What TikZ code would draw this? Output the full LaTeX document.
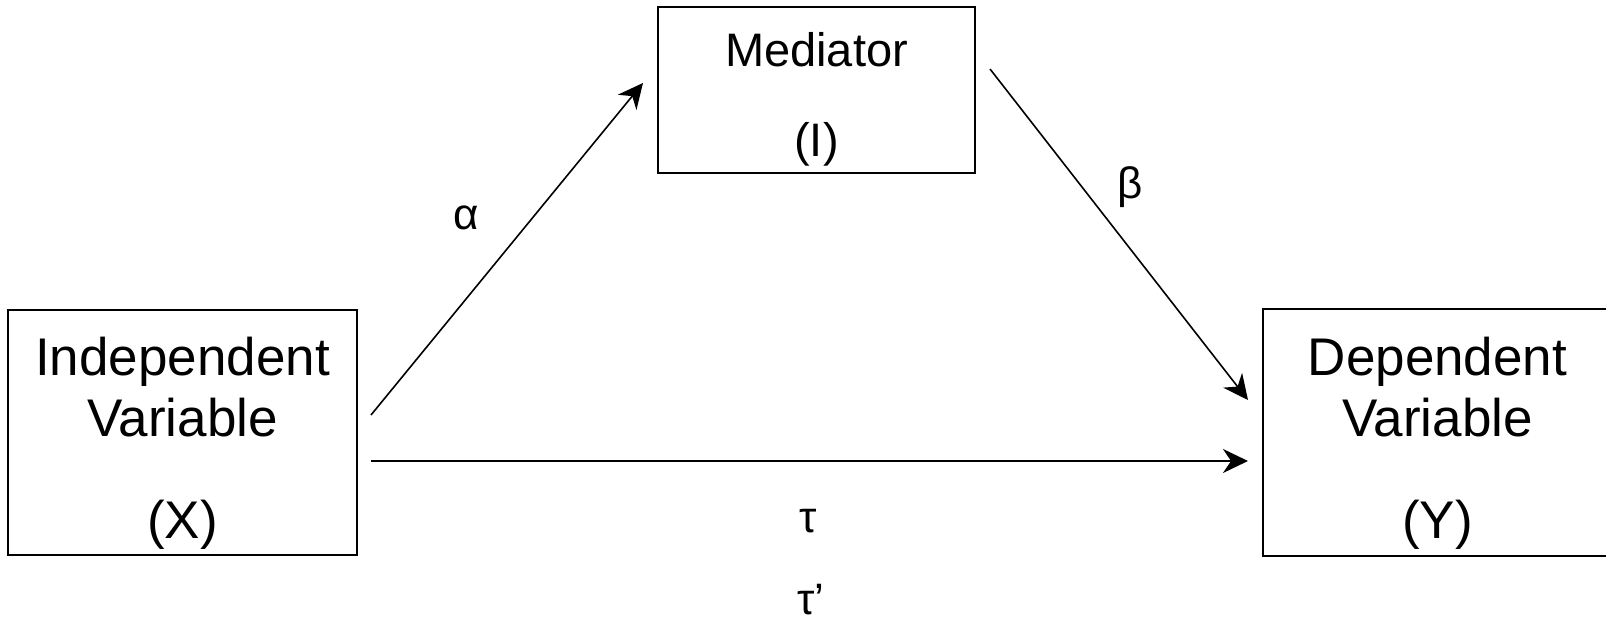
\documentclass[tikz,border=0pt]{standalone}
\usepackage{fontspec}
\setmainfont{Liberation Sans}
\usetikzlibrary{arrows.meta}
\begin{document}
\begin{tikzpicture}[x=1pt,y=-1pt,
  box/.style={draw,line width=1.6pt,rectangle,inner sep=0pt},
  big/.style={font=\fontsize{53}{60}\selectfont,inner sep=0pt,anchor=base},
  mid/.style={font=\fontsize{47}{54}\selectfont,inner sep=0pt,anchor=base},
  greek/.style={font=\fontsize{44}{50}\selectfont,inner sep=0pt,anchor=base},
  conn/.style={line width=1.6pt,-{Stealth[length=25pt,width=24pt,inset=8pt]}}]
\useasboundingbox (0,0) rectangle (1606,620);
% boxes
\node[box,minimum width=349pt,minimum height=245pt] (X) at (182.5,432.5) {};
\node[box,minimum width=349pt,minimum height=247pt] (Y) at (1437.5,432.5) {};
\node[box,minimum width=317pt,minimum height=166pt] (M) at (816.5,90) {};
% texts
\node[big] (x1) at (182.5,375) {Independent};
\node[big] (x2) at (182.5,436) {Variable};
\node[big] (x3) at (182.5,538) {(X)};
\node[big] (y1) at (1437.5,375) {Dependent};
\node[big] (y2) at (1437.5,436) {Variable};
\node[big] (y3) at (1437.5,538) {(Y)};
\node[mid] (m1) at (816.5,67) {Mediator};
\node[mid] (m2) at (816.5,157) {(I)};
% labels
\node[greek] (la) at (466,230) {α};
\node[greek] (lb) at (1130,199) {β};
\node[greek] (lt) at (808,532) {τ};
\node[greek] (ltp) at (811,614) {τ’};
% connector ends
\coordinate (a0) at (371,415);
\coordinate (a1) at (643,83);
\coordinate (b0) at (990,69);
\coordinate (b1) at (1248,400);
\coordinate (c0) at (371,461);
\coordinate (c1) at (1248,461);
\draw[conn] (a0) -- (a1);
\draw[conn] (b0) -- (b1);
\draw[conn] (c0) -- (c1);
\end{tikzpicture}
\end{document}
